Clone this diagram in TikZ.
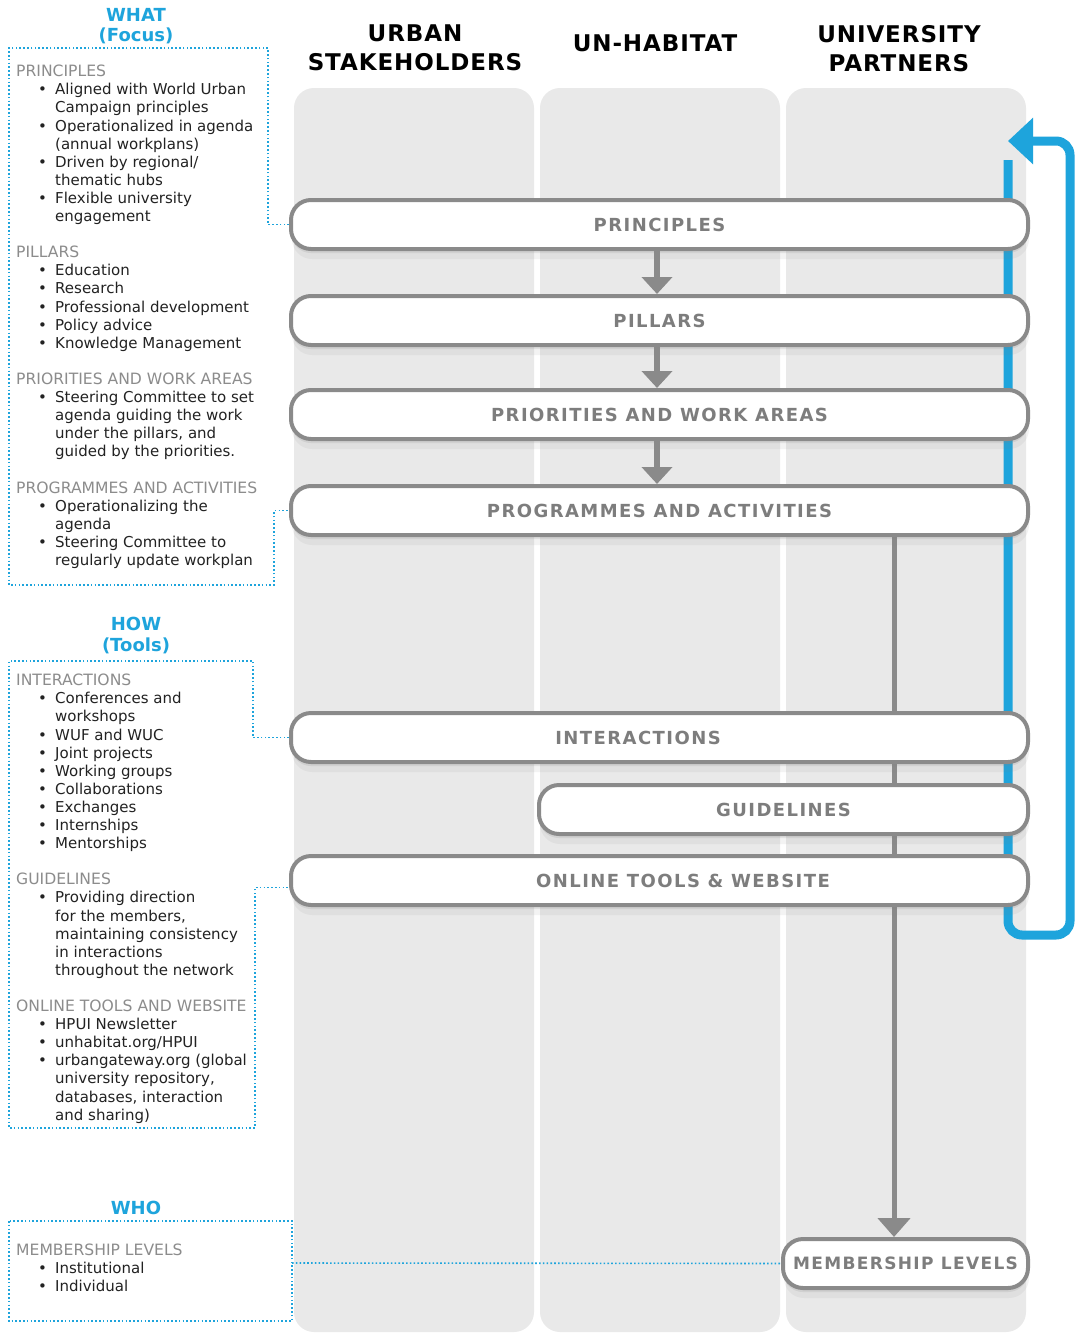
\documentclass[tikz,border=0pt]{standalone}
\usepackage{fontspec}
\setmainfont{DejaVu Sans}
\newfontfamily\stagefont[LetterSpace=8]{DejaVu Sans}
\newfontfamily\headfont[LetterSpace=4]{DejaVu Sans}
\usetikzlibrary{arrows.meta}
\usetikzlibrary{shadows}
\usetikzlibrary{backgrounds}
\usetikzlibrary{calc}

\definecolor{hpuiblue}{RGB}{30,164,220}
\definecolor{lanegray}{RGB}{233,233,233}
\definecolor{rimgray}{RGB}{138,138,138}
\definecolor{labelgray}{RGB}{125,125,125}
\definecolor{headgray}{RGB}{140,140,140}
\definecolor{inkgray}{RGB}{34,34,34}

\newcommand{\itm}{\hspace*{22pt}\makebox[17pt][l]{\textbullet}}
\newcommand{\cnt}{\hspace*{39pt}}
\newcommand{\hd}[1]{\textcolor{headgray}{\fontsize{15.6}{18.1}\selectfont #1}}

\tikzset{
  lane/.style={fill=lanegray, rounded corners=20pt, inner sep=0pt,
    minimum width=240, minimum height=1244},
  colhead/.style={anchor=north, inner sep=0pt, align=center,
    font=\headfont\bfseries\fontsize{23}{29}\selectfont},
  softshadow/.style={drop shadow={shadow xshift=0pt, shadow yshift=-4pt, opacity=.16},
    drop shadow={shadow xshift=1pt, shadow yshift=-10pt, opacity=.09}},
  stage/.style={draw=rimgray, line width=4pt, fill=white, rounded corners=20pt,
    minimum height=49, inner sep=0pt, text=labelgray, softshadow,
    font=\stagefont\bfseries\fontsize{18}{20}\selectfont},
  sidenote/.style={anchor=north west, inner sep=0pt, align=left, text=inkgray,
    font=\fontsize{15}{18.1}\selectfont},
  asktitle/.style={anchor=north, inner sep=0pt, align=center, text=hpuiblue,
    font=\bfseries\fontsize{18}{20.5}\selectfont},
  dotlink/.style={hpuiblue, line width=1.6pt, dash pattern=on 1.6pt off 2.2pt},
  flow/.style={rimgray, line width=6pt, -{Triangle[width=30pt,length=17pt]}},
  feedback/.style={hpuiblue, line width=9pt, rounded corners=14pt,
    -{Triangle[width=45pt,length=25pt]}}
}

\begin{document}
\begin{tikzpicture}[x=1pt,y=-1pt]
\useasboundingbox (0,0) rectangle (1078,1333);

% column heads
\node[colhead] (hurban) at (415,25) {URBAN\\STAKEHOLDERS};
\node[colhead] (hunh) at (655,35) {UN-HABITAT};
\node[colhead] (huni) at (899,25) {UNIVERSITY\\PARTNERS};

% left hand notes
\node[asktitle] (what) at (136,8) {WHAT\\(Focus)};
\node[sidenote] (whatnote) at (16,65) {\hd{PRINCIPLES}\\
\itm Aligned with World Urban\\
\cnt Campaign principles\\
\itm Operationalized in agenda\\
\cnt (annual workplans)\\
\itm Driven by regional/\\
\cnt thematic hubs\\
\itm Flexible university\\
\cnt engagement\\[18.1pt]
\hd{PILLARS}\\
\itm Education\\
\itm Research\\
\itm Professional development\\
\itm Policy advice\\
\itm Knowledge Management\\[18.1pt]
\hd{PRIORITIES AND WORK AREAS}\\
\itm Steering Committee to set\\
\cnt agenda guiding the work\\
\cnt under the pillars, and\\
\cnt guided by the priorities.\\[18.1pt]
\hd{PROGRAMMES AND ACTIVITIES}\\
\itm Operationalizing the\\
\cnt agenda\\
\itm Steering Committee to\\
\cnt regularly update workplan};

\node[asktitle] (how) at (136,617) {HOW\\(Tools)};
\node[sidenote] (hownote) at (16,674) {\hd{INTERACTIONS}\\
\itm Conferences and\\
\cnt workshops\\
\itm WUF and WUC\\
\itm Joint projects\\
\itm Working groups\\
\itm Collaborations\\
\itm Exchanges\\
\itm Internships\\
\itm Mentorships\\[18.1pt]
\hd{GUIDELINES}\\
\itm Providing direction\\
\cnt for the members,\\
\cnt maintaining consistency\\
\cnt in interactions\\
\cnt throughout the network\\[18.1pt]
\hd{ONLINE TOOLS AND WEBSITE}\\
\itm HPUI Newsletter\\
\itm unhabitat.org/HPUI\\
\itm urbangateway.org (global\\
\cnt university repository,\\
\cnt databases, interaction\\
\cnt and sharing)};

\node[asktitle] (who) at (136,1201) {WHO};
\node[sidenote] (whonote) at (16,1244) {\hd{MEMBERSHIP LEVELS}\\
\itm Institutional\\
\itm Individual};

% stages
\node[stage, minimum width=737] (prin) at (659.5,224.5) {PRINCIPLES};
\node[stage, minimum width=737] (pil) at (659.5,320.5) {PILLARS};
\node[stage, minimum width=737] (prio) at (659.5,414.5) {PRIORITIES AND WORK AREAS};
\node[stage, minimum width=737] (prog) at (659.5,510.5) {PROGRAMMES AND ACTIVITIES};
\node[stage, minimum width=737] (inter) at (659.5,737.5) {\kern-43pt INTERACTIONS};
\node[stage, minimum width=489] (guide) at (783.5,809.5) {GUIDELINES};
\node[stage, minimum width=737] (online) at (659.5,880.5) {\kern47pt ONLINE TOOLS \& WEBSITE};
\node[stage, minimum width=245, font=\stagefont\bfseries\fontsize{17}{19}\selectfont] (memb) at (905.5,1263.5) {MEMBERSHIP LEVELS};

\coordinate (spine) at (657,0);
\coordinate (trunk) at (894,0);
\foreach \a/\b in {prin/pil, pil/prio, prio/prog}
  \draw[flow] (\a.south -| spine) -- (\b.north -| spine);

\begin{scope}[on background layer]
\fill[white] (0,0) rectangle (1078,1333);
\node[lane] (laneurban) at (414,710) {};
\node[lane] (laneunh) at (660,710) {};
\node[lane] (laneuni) at (906,710) {};

\draw[flow, line width=5pt, -{Triangle[width=32pt,length=19pt]}]
  (prog.south -| trunk) -- (memb.north -| trunk);

\coordinate (fbstart) at (1008,160);
\coordinate (fbend) at (1008,141);
\draw[feedback] (fbstart) -- (1008,935) -- (1070,935) -- (1070,141) -- (fbend);

% dotted frames
\draw[dotlink] (prin.west) -- ++(-21,0) |- (9,48) |- (274,585) |- (prog.west);
\draw[dotlink] (inter.west) -- ++(-36,0) |- (9,661) |- (255,1128) |- ($(online.west)+(0,7)$);
\draw[dotlink] (9,1221) rectangle (292,1321);
\draw[dotlink] (292,1263) -- (memb.west);
\end{scope}
\end{tikzpicture}
\end{document}
